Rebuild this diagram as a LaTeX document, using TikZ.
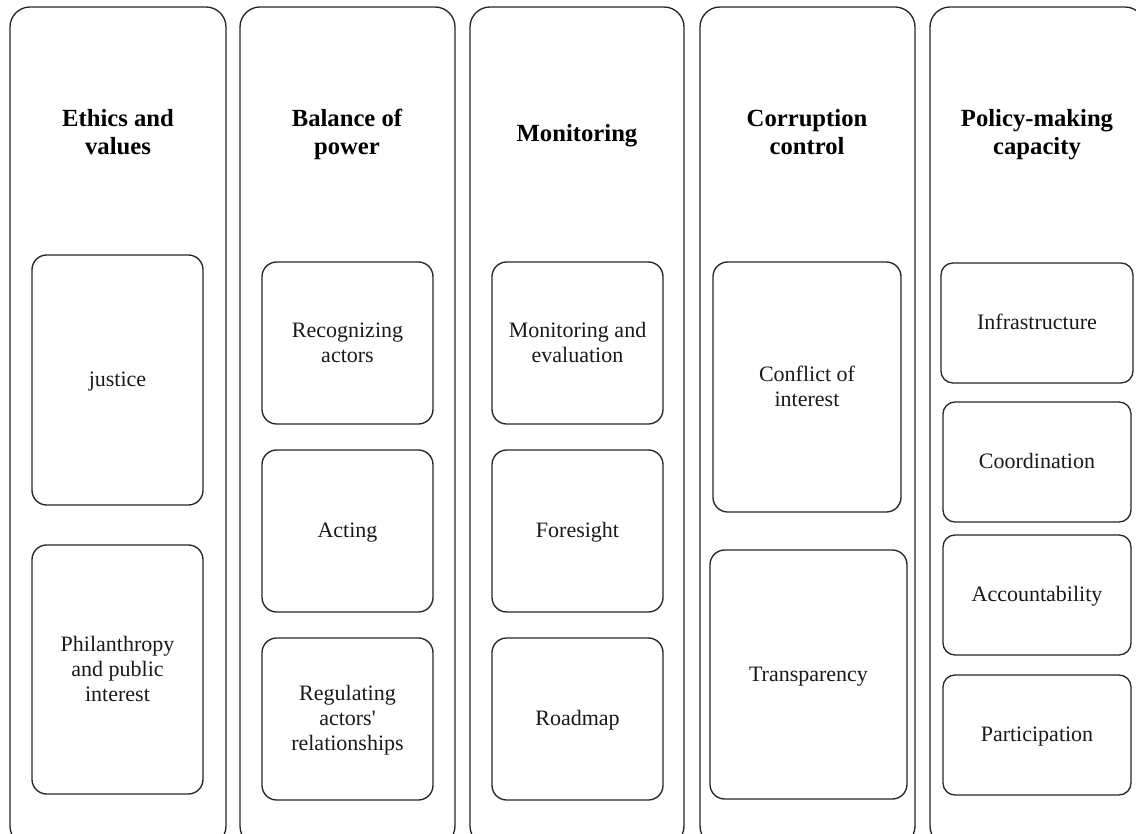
\documentclass[tikz,border=0pt]{standalone}
\usepackage{fontspec}
\setmainfont{Liberation Serif}
\newcommand\st{\rule[-0.25em]{0pt}{1.13em}}
\begin{document}
\begin{tikzpicture}[x=0.75pt,y=-0.75pt,
  outer/.style={draw=black!85,line width=1pt,rounded corners=15pt,inner sep=0pt},
  inner/.style={draw=black!85,line width=1pt,rounded corners=11pt,inner sep=0pt,align=center,
    font=\fontsize{16.5pt}{18.75pt}\selectfont,text=black!90},
  small/.style={inner,rounded corners=9pt},
  title/.style={align=center,inner sep=0pt,font=\fontsize{18.5pt}{21.2pt}\selectfont\bfseries}]
\newcommand\bx[7]{\node[#2,minimum width={(#4-#3)*0.75pt},minimum height={(#6-#5)*0.75pt}] (#1) at ({(#3+#4)/2},{(#5+#6)/2}) {#7};}
\useasboundingbox (0,0) rectangle (1136,834);
\clip (0,0) rectangle (1136,834);
% outer columns
\bx{c1}{outer}{10}{226}{7}{846}{}
\bx{c2}{outer}{240}{455}{7}{846}{}
\bx{c3}{outer}{470}{684}{7}{846}{}
\bx{c4}{outer}{700}{915}{7}{846}{}
\bx{c5}{outer}{930}{1145}{7}{846}{}
% titles
\node[title] (t1) at (118,133) {Ethics and\st\\values\st};
\node[title] (t2) at (347,133) {Balance of\st\\power\st};
\node[title] (t3) at (577,134) {Monitoring\st};
\node[title] (t4) at (807,133) {Corruption\st\\control\st};
\node[title] (t5) at (1037,133) {Policy-making\st\\capacity\st};
% column 1
\bx{a1}{inner}{32}{203}{255}{505}{justice\st}
\bx{a2}{inner}{32}{203}{545}{794}{Philanthropy\st\\and public\st\\interest\st}
% column 2
\bx{b1}{inner}{262}{433}{262}{424}{Recognizing\st\\actors\st}
\bx{b2}{inner}{262}{433}{450}{612}{Acting\st}
\bx{b3}{inner}{262}{433}{638}{800}{Regulating\st\\actors\textquotesingle\st\\relationships\st}
% column 3
\bx{m1}{inner}{492}{663}{262}{424}{Monitoring and\st\\evaluation\st}
\bx{m2}{inner}{492}{663}{450}{612}{Foresight\st}
\bx{m3}{inner}{492}{663}{638}{800}{Roadmap\st}
% column 4
\bx{k1}{inner}{713}{901}{262}{512}{Conflict of\st\\interest\st}
\bx{k2}{inner}{710}{907}{550}{799}{Transparency\st}
% column 5
\bx{p1}{small}{941}{1133}{263}{383}{Infrastructure\st}
\bx{p2}{small}{943}{1131}{402}{522}{Coordination\st}
\bx{p3}{small}{943}{1131}{535}{655}{Accountability\st}
\bx{p4}{small}{943}{1131}{675}{795}{Participation\st}
\end{tikzpicture}
\end{document}
